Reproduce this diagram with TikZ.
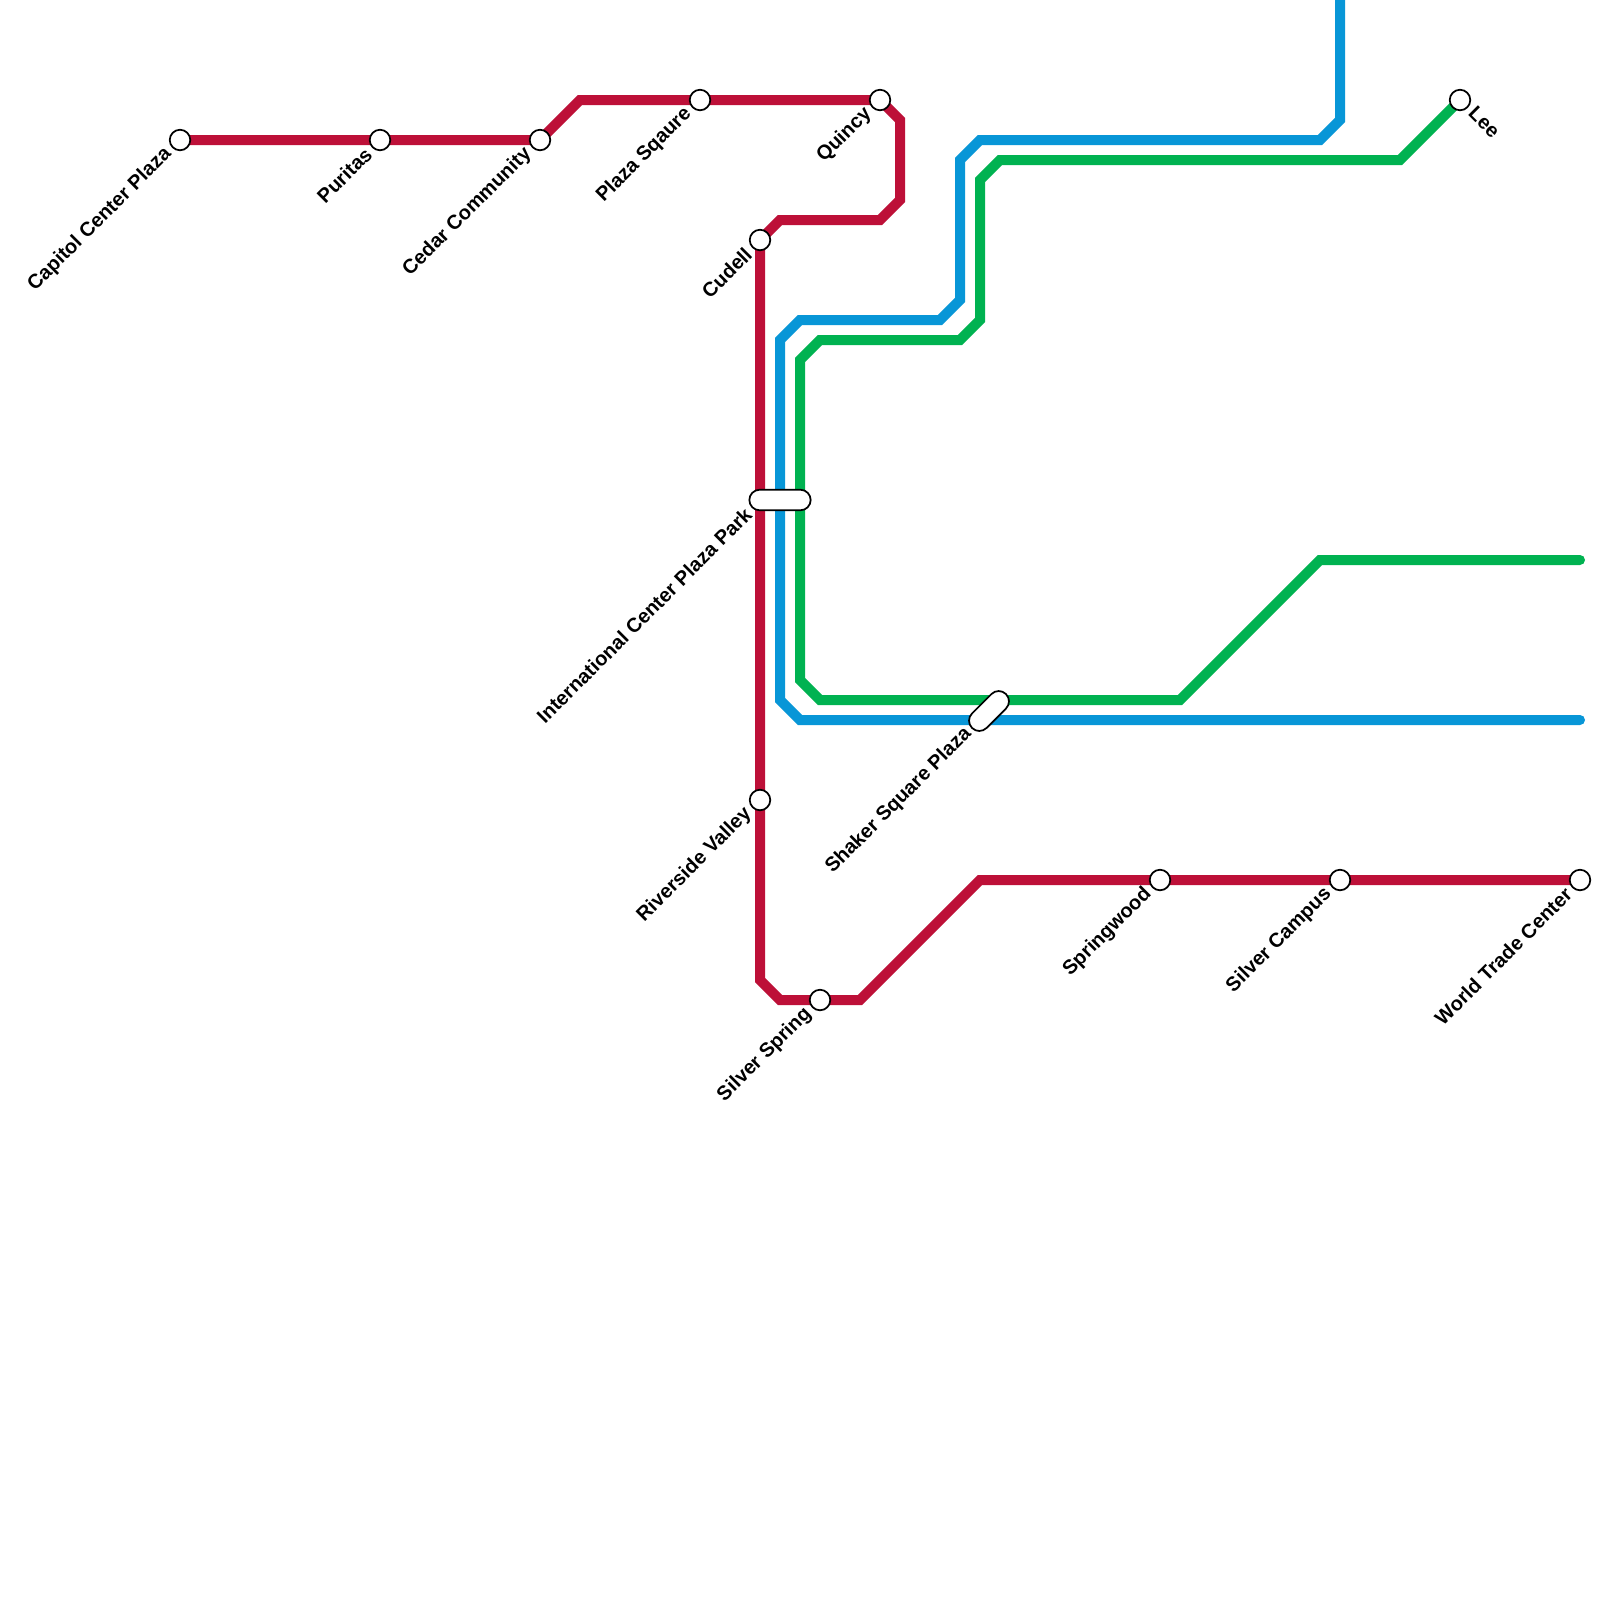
\documentclass[tikz,border=0pt]{standalone}
\usepackage{fontspec}
\setmainfont{Liberation Sans}
\usetikzlibrary{shapes.misc}
\pgfdeclarelayer{bg}
\pgfsetlayers{bg,main}
\definecolor{redline}{HTML}{BD1038}
\definecolor{blueline}{HTML}{0896D7}
\definecolor{greenline}{HTML}{00B251}
\tikzset{
  metro/.style={line width=7.5pt,line join=miter,line cap=round},
  stn/.style={circle,draw=black,fill=white,line width=1.3pt,minimum size=15.4pt,inner sep=0pt},
  hub/.style={rounded rectangle,draw=black,fill=white,line width=1.3pt,minimum height=15.4pt,inner sep=0pt},
  lbl/.style={font=\fontsize{15pt}{16pt}\selectfont\bfseries,inner sep=0pt,text=black,rotate=45,anchor=east},
  lblr/.style={font=\fontsize{15pt}{16pt}\selectfont\bfseries,inner sep=0pt,text=black,rotate=-45,anchor=west},
}
\begin{document}
\begin{tikzpicture}[x=0.75pt,y=-0.75pt]
\useasboundingbox (0,0) rectangle (1600,1600);
% stations
\node[stn] (capitol) at (180,140) {};
\node[stn] (puritas) at (380,140) {};
\node[stn] (cedar) at (540,140) {};
\node[stn] (plaza) at (700,100) {};
\node[stn] (quincy) at (880,100) {};
\node[stn] (cudell) at (760,240) {};
\node[stn] (riverside) at (760,800) {};
\node[stn] (silverspring) at (820,1000) {};
\node[stn] (springwood) at (1160,880) {};
\node[stn] (campus) at (1340,880) {};
\node[stn] (wtc) at (1580,880) {};
\node[stn] (lee) at (1460,100) {};
\node[hub,minimum width=46pt] (intl) at (780,500) {};
\node[hub,minimum width=36pt,rotate=45] (shaker) at (989,711) {};
% free ends
\coordinate (blueTop) at (1340,0);
\coordinate (blueEnd) at (1580,720);
\coordinate (greenEnd) at (1580,560);
% lines
\begin{pgfonlayer}{bg}
\fill[white] (0,0) rectangle (1600,1600);
\draw[metro,redline] (capitol.center) -- (puritas.center) -- (cedar.center) -- (580,100) -- (plaza.center) -- (quincy.center) -- (900,120) -- (900,200) -- (880,220) -- (780,220) -- (cudell.center) -- (riverside.center) -- (760,980) -- (780,1000) -- (silverspring.center) -- (860,1000) -- (980,880) -- (springwood.center) -- (campus.center) -- (wtc.center);
\draw[metro,blueline] (blueTop) -- (1340,120) -- (1320,140) -- (980,140) -- (960,160) -- (960,300) -- (940,320) -- (800,320) -- (780,340) -- (780,700) -- (800,720) -- (blueEnd);
\draw[metro,greenline] (lee.center) -- (1400,160) -- (1000,160) -- (980,180) -- (980,320) -- (960,340) -- (820,340) -- (800,360) -- (800,680) -- (820,700) -- (1180,700) -- (1320,560) -- (greenEnd);
\end{pgfonlayer}
% labels
\node[lbl] (lcapitol) at ([shift={(-11.5,11)}]capitol.center) {Capitol Center Plaza};
\node[lbl] (lpuritas) at ([shift={(-11.5,11)}]puritas.center) {Puritas};
\node[lbl] (lcedar) at ([shift={(-11.5,11)}]cedar.center) {Cedar Community};
\node[lbl] (lplaza) at ([shift={(-11.5,11)}]plaza.center) {Plaza Sqaure};
\node[lbl] (lquincy) at ([shift={(-11.5,11)}]quincy.center) {Quincy};
\node[lbl] (lcudell) at ([shift={(-11.5,11)}]cudell.center) {Cudell};
\node[lbl] (lintl) at ([shift={(-11.5,11)}]760,500) {International Center Plaza Park};
\node[lbl] (lriverside) at ([shift={(-11.5,11)}]riverside.center) {Riverside Valley};
\node[lbl] (lshaker) at ([shift={(-11.5,11)}]980,720) {Shaker Square Plaza};
\node[lbl] (lsilverspring) at ([shift={(-11.5,11)}]silverspring.center) {Silver Spring};
\node[lbl] (lspringwood) at ([shift={(-11.5,11)}]springwood.center) {Springwood};
\node[lbl] (lcampus) at ([shift={(-11.5,11)}]campus.center) {Silver Campus};
\node[lbl] (lwtc) at ([shift={(-11.5,11)}]wtc.center) {World Trade Center};
\node[lblr] (llee) at ([shift={(12,10)}]lee.center) {Lee};
\end{tikzpicture}
\end{document}
